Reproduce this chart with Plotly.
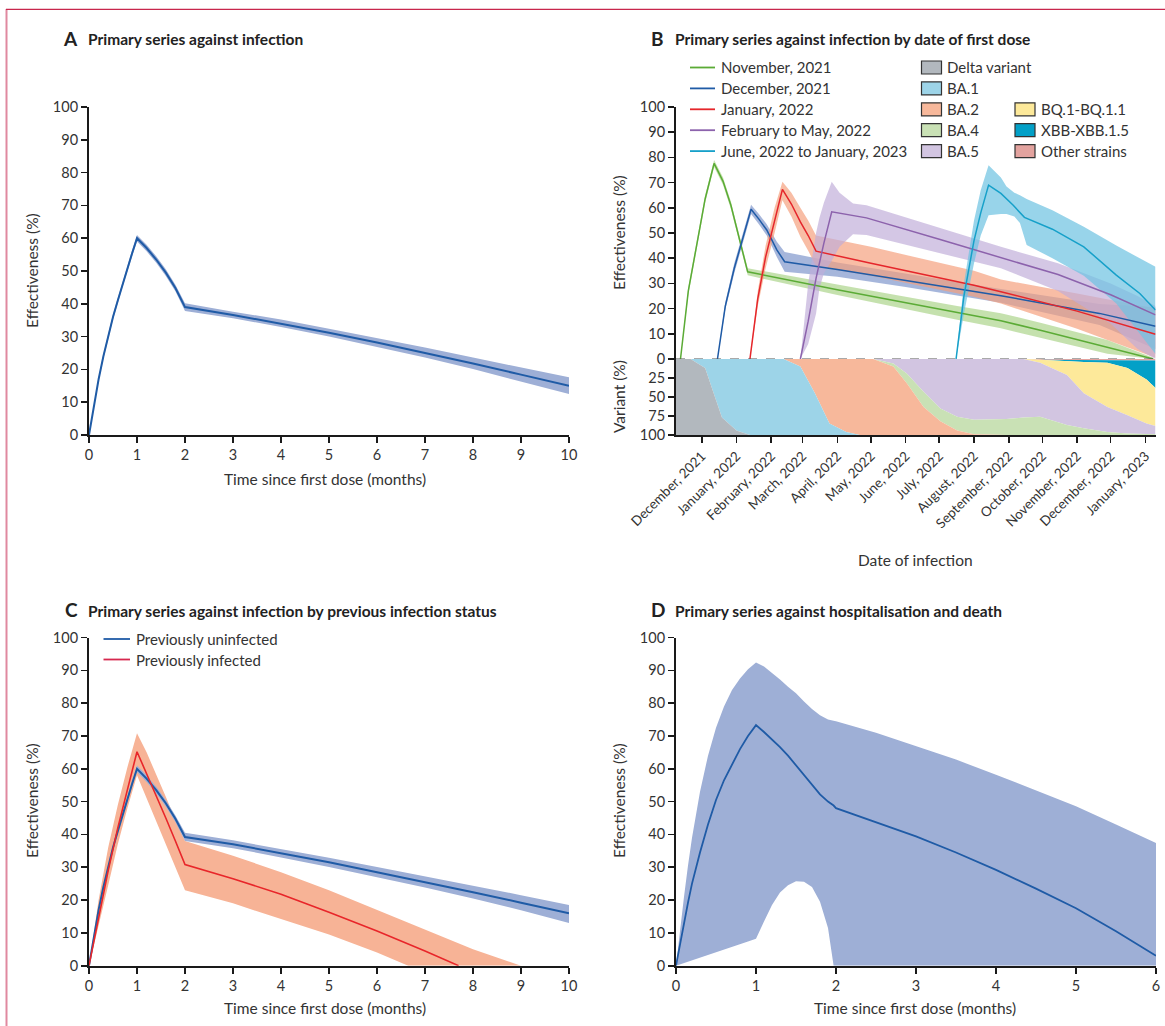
import plotly.graph_objects as go

W, H = 1165, 1026
FONT = "Lato"
TXT = "#333333"
AXC = "#1a1a1a"

# ---------------- Panel A: primary series against infection ----------------
a_t = [0, 0.1, 0.2, 0.3, 0.4, 0.5, 0.6, 0.7, 0.8, 0.9, 1.0, 1.2, 1.4, 1.6, 1.8, 2.0, 3, 4, 5, 6, 7, 8, 9, 10]
a_mid = [0, 9, 17, 24, 30, 36, 41, 46, 51, 55.5, 60, 57, 53.5, 49.5, 44.8, 39, 36.6, 34, 31.2, 28.2, 25.1, 21.8, 18.4, 15]
a_up = [0, 9.4, 17.6, 24.7, 30.8, 36.8, 41.8, 46.8, 51.9, 56.4, 61, 58, 54.5, 50.5, 45.8, 40.2, 37.6, 35.2, 32.4, 29.6, 26.7, 23.6, 20.6, 17.6]
a_lo = [0, 8.6, 16.4, 23.3, 29.2, 35.2, 40.2, 45.2, 50.1, 54.6, 59, 56, 52.5, 48.5, 43.8, 37.8, 35.6, 32.9, 30, 26.9, 23.6, 20.1, 16.4, 12.5]

# ---------------- Panel B: by date of first dose ----------------
b_green_d = ["2021-11-12", "2021-11-19", "2021-11-27", "2021-12-04", "2021-12-12", "2021-12-20", "2021-12-27",
             "2022-01-03", "2022-01-11", "2022-04-01", "2022-07-17", "2022-08-25", "2022-10-01", "2022-11-28", "2023-01-08"]
b_green_m = [0, 27, 46.5, 63.5, 77.6, 70.5, 61, 49, 34.6, 27.5, 18.3, 15.2, 11.2, 4.8, 0]
b_green_u = [0, 28.5, 48, 65, 79, 72, 62.5, 50.5, 36, 29.6, 21, 18.2, 14.2, 7.5, 0.5]
b_green_l = [0, 25.5, 45, 62, 76.2, 69, 59.5, 47.5, 33.2, 25.4, 15.6, 12.2, 8.2, 2.1, 0]

b_blue_d = ["2021-12-15", "2021-12-22", "2021-12-30", "2022-01-07", "2022-01-14", "2022-01-21", "2022-01-28",
            "2022-02-06", "2022-02-13", "2022-04-01", "2022-06-01", "2022-08-25", "2022-11-21", "2023-01-10"]
b_blue_m = [0, 21, 36, 48.5, 59.4, 55.5, 51.2, 43.3, 38.6, 35.5, 31.2, 25.1, 18.1, 13]
b_blue_u = [0, 22.5, 38, 50.5, 61.2, 57.5, 53.5, 46.5, 42.5, 38.3, 33.8, 27.8, 21.8, 20.5]
b_blue_l = [0, 19.5, 34, 46.5, 57.5, 53.5, 49, 40.5, 34.6, 32.6, 28.6, 22.3, 13.5, 4]

b_red_d = ["2022-01-13", "2022-01-20", "2022-01-27", "2022-02-04", "2022-02-11", "2022-02-19", "2022-02-27",
           "2022-03-06", "2022-03-13", "2022-05-01", "2022-08-01", "2022-08-25", "2022-11-01", "2023-01-10"]
b_red_m = [0, 24, 40.5, 55, 67.3, 61.5, 54.4, 49, 42.8, 38, 29.3, 26.7, 19, 9.8]
b_red_u = [0, 27, 45, 60, 70.3, 66, 60, 55, 49, 44.5, 35, 31.5, 26, 20]
b_red_l = [0, 21, 36, 50, 63, 56.5, 48.5, 43, 36.8, 33, 24.7, 22, 12, 0.5]

b_purple_d = ["2022-02-27", "2022-03-06", "2022-03-13", "2022-03-20", "2022-03-27", "2022-04-27",
              "2022-07-01", "2022-08-25", "2022-10-15", "2022-12-01", "2023-01-10"]
b_purple_m = [0, 15, 32, 46, 58.4, 56, 47.5, 40.3, 33.5, 25.5, 17.5]
b_purple_bd = ["2022-02-27", "2022-03-06", "2022-03-13", "2022-03-16", "2022-03-20", "2022-03-27", "2022-04-03",
               "2022-04-15", "2022-04-27", "2022-07-01", "2022-08-25", "2022-10-15", "2022-12-01", "2022-12-25", "2023-01-10"]
b_purple_u = [0, 30, 50, 56, 62, 70.3, 66, 61.7, 61, 52, 44.5, 38, 30, 25, 21]
b_purple_l = [0, 6, 18, 28, 34, 39, 44.5, 49.5, 49.2, 42, 36, 27, 14, 4, 0]

b_cyan_d = ["2022-07-16", "2022-07-23", "2022-08-01", "2022-08-07", "2022-08-14", "2022-08-25", "2022-09-05",
            "2022-09-15", "2022-10-10", "2022-11-07", "2022-12-06", "2022-12-27", "2023-01-10"]
b_cyan_m = [0, 25, 47, 58, 69, 65.7, 61, 56.2, 51.5, 44.5, 33.3, 26, 19.4]
b_cyan_bd = ["2022-07-16", "2022-07-23", "2022-08-01", "2022-08-07", "2022-08-14", "2022-08-25", "2022-08-30",
             "2022-09-06", "2022-09-11", "2022-09-17", "2022-10-10", "2022-11-07", "2022-12-06", "2022-12-27", "2023-01-10"]
b_cyan_u = [0, 30, 55, 67, 76.9, 72, 68.5, 66, 65, 63.5, 59, 52.5, 45, 40, 36.6]
b_cyan_l = [0, 18, 38, 49, 57, 57.5, 57.5, 56.5, 54, 45.2, 40, 33, 22, 10, 2]

b_series_names = ["November, 2021", "December, 2021", "January, 2022", "February to May, 2022", "June, 2022 to January, 2023"]
b_line_colors = ["#5bab36", "#1f5ba6", "#e5262b", "#8c62ac", "#16a0c9"]
b_band_colors = ["rgba(172,212,140,0.70)", "rgba(112,137,197,0.62)", "rgba(245,158,122,0.68)",
                 "rgba(192,172,216,0.68)", "rgba(112,196,226,0.72)"]

# variant proportions (%), date of infection
v_dates = ["2021-11-08", "2021-11-21", "2021-12-04", "2021-12-19", "2022-01-01", "2022-01-13", "2022-02-12",
           "2022-02-27", "2022-03-12", "2022-03-25", "2022-04-09", "2022-04-21", "2022-05-03", "2022-05-21",
           "2022-06-02", "2022-06-17", "2022-07-02", "2022-07-17", "2022-08-01", "2022-08-30", "2022-09-14",
           "2022-09-29", "2022-10-23", "2022-11-07", "2022-11-28", "2022-12-16", "2023-01-02", "2023-01-10"]
v_delta = [100, 100, 88, 23, 6, 0, 0, 0, 0, 0, 0, 0, 0, 0, 0, 0, 0, 0, 0, 0, 0, 0, 0, 0, 0, 0, 0, 0]
v_ba1 = [0, 0, 12, 77, 94, 100, 100, 90, 55, 15, 4, 0, 0, 0, 0, 0, 0, 0, 0, 0, 0, 0, 0, 0, 0, 0, 0, 0]
v_ba2 = [0, 0, 0, 0, 0, 0, 0, 10, 45, 85, 96, 100, 100, 90, 68, 37, 18, 6, 1, 0, 0, 0, 0, 0, 0, 0, 0, 0]
v_ba4 = [0, 0, 0, 0, 0, 0, 0, 0, 0, 0, 0, 0, 0, 4, 13, 20, 17, 18, 19, 21, 23, 24, 13, 9, 4, 2, 1, 1]
v_ba5 = [0, 0, 0, 0, 0, 0, 0, 0, 0, 0, 0, 0, 0, 6, 19, 43, 65, 76, 80, 79, 77, 71, 66, 46, 33, 24, 14, 11]
v_bq1 = [0, 0, 0, 0, 0, 0, 0, 0, 0, 0, 0, 0, 0, 0, 0, 0, 0, 0, 0, 0, 0, 4, 18, 41, 58, 62, 58, 50]
v_xbb = [0, 0, 0, 0, 0, 0, 0, 0, 0, 0, 0, 0, 0, 0, 0, 0, 0, 0, 0, 0, 0, 0, 1.5, 2.5, 3.5, 10, 25, 36]
v_other = [0, 0, 0, 0, 0, 0, 0, 0, 0, 0, 0, 0, 0, 0, 0, 0, 0, 0, 0, 0, 0, 1, 1.5, 1.5, 1.5, 2, 2, 2]

variant_names = ["Delta variant", "BA.1", "BA.2", "BA.4", "BA.5", "BQ.1-BQ.1.1", "XBB-XBB.1.5", "Other strains"]
variant_colors = ["#b2b8be", "#9dd4e8", "#f7b89b", "#c9e1b5", "#d2c5e1", "#fde99a", "#03a0c7", "#e3a39f"]

month_ticks = ["2021-12-01", "2022-01-01", "2022-02-01", "2022-03-01", "2022-04-01", "2022-05-01", "2022-06-01",
               "2022-07-01", "2022-08-01", "2022-09-01", "2022-10-01", "2022-11-01", "2022-12-01", "2023-01-01"]
month_labels = ["December, 2021", "January, 2022", "February, 2022", "March, 2022", "April, 2022", "May, 2022",
                "June, 2022", "July, 2022", "August, 2022", "September, 2022", "October, 2022", "November, 2022",
                "December, 2022", "January, 2023"]

# ---------------- Panel C: by previous infection status ----------------
c_t = [0, 0.1, 0.2, 0.3, 0.4, 0.5, 0.6, 0.7, 0.8, 0.9, 1.0, 1.2, 1.4, 1.6, 1.8, 2.0, 3, 4, 5, 6, 7, 8, 9, 10]
c_un_mid = [0, 9, 17, 24, 30, 36, 41, 46, 51, 55.5, 60, 57, 53.5, 49.5, 44.8, 39.2, 37, 34.3, 31.5, 28.5, 25.5, 22.4, 19.2, 16]
c_un_up = [0, 9.4, 17.6, 24.7, 30.8, 36.8, 41.8, 46.8, 51.9, 56.4, 61, 58, 54.5, 50.5, 45.8, 40.5, 38.2, 35.6, 32.9, 30.1, 27.3, 24.4, 21.5, 18.5]
c_un_lo = [0, 8.6, 16.4, 23.3, 29.2, 35.2, 40.2, 45.2, 50.1, 54.6, 59, 56, 52.5, 48.5, 43.8, 38, 35.8, 33, 30.1, 27, 23.8, 20.5, 16.9, 13]

c_in_t = [0, 0.2, 0.4, 0.6, 0.8, 1.0, 1.2, 1.4, 1.6, 1.8, 2.0, 3, 4, 5, 6, 7, 7.7]
c_in_mid = [0, 15, 29, 42, 54, 65.2, 58.5, 52, 45, 38, 30.8, 26.5, 21.8, 16.3, 10.6, 4.5, 0]
c_in_bt = [0, 0.2, 0.4, 0.6, 0.8, 1.0, 1.2, 1.4, 1.6, 1.8, 2.0, 3, 4, 5, 6, 6.65, 7, 8, 9]
c_in_up = [0, 20, 36, 49, 60.5, 70.8, 65, 58.5, 51.5, 44.5, 38, 33.5, 28.5, 23, 17, 13.3, 11, 5, 0]
c_in_lo = [0, 12, 24.5, 37, 48, 58, 51.5, 44, 37, 30, 23, 19, 14.2, 9.5, 4, 0, 0, 0, 0]

c_names = ["Previously uninfected", "Previously infected"]
c_colors = ["#1f5ba6", "#e8262a"]

# ---------------- Panel D: against hospitalisation and death ----------------
d_t = [0, 0.05, 0.1, 0.15, 0.2, 0.3, 0.4, 0.5, 0.6, 0.7, 0.8, 0.9, 1.0, 1.1, 1.2, 1.3, 1.4, 1.5, 1.6, 1.7, 1.8, 1.9,
       1.97, 2.0, 2.5, 3, 3.5, 4, 4.5, 5, 5.5, 6]
d_mid = [0, 6.8, 13, 19.2, 25, 34.5, 43, 50.5, 56.5, 61.5, 66, 70, 73.3, 71.2, 69, 66.6, 64, 61, 58, 55.2, 52.2, 50,
         48.8, 48, 43.8, 39.4, 34.5, 29.2, 23.5, 17.5, 10.5, 3]
d_up = [0, 11, 21, 30.5, 39, 53, 64, 72.5, 79, 84, 87.5, 90.3, 92.4, 91.2, 89.3, 87.2, 85, 83, 80.5, 78.2, 76.3, 75,
        74.6, 74.5, 71, 67, 62.8, 58.2, 53.5, 48.6, 43, 37.4]
d_lo = [0, 0.4, 0.8, 1.2, 1.6, 2.5, 3.3, 4.1, 4.9, 5.7, 6.6, 7.4, 8.2, 13.5, 18.5, 22.3, 24.5, 25.7, 25.6, 24, 19.5,
        11.5, 0, 0, 0, 0, 0, 0, 0, 0, 0, 0]

BAND_BLUE = "#9eafd6"
LINE_BLUE = "#1f5ba6"


def xd(p0, p1):
    return [p0 / W, p1 / W]


def yd(top, bottom):
    return [1 - bottom / H, 1 - top / H]


def band(x, up, lo, color, xa, ya):
    return go.Scatter(x=list(x) + list(x)[::-1], y=list(up) + list(lo)[::-1], fill="toself",
                      fillcolor=color, line=dict(width=0), mode="lines", hoverinfo="skip",
                      showlegend=False, xaxis=xa, yaxis=ya)


def line(x, y, color, xa, ya, name, width=1.6):
    return go.Scatter(x=x, y=y, mode="lines", line=dict(color=color, width=width), name=name,
                      showlegend=False, xaxis=xa, yaxis=ya)


fig = go.Figure()

# Panel A
fig.add_trace(band(a_t, a_up, a_lo, BAND_BLUE, "x", "y"))
fig.add_trace(line(a_t, a_mid, LINE_BLUE, "x", "y", "Primary series", 2))

# Panel B effectiveness
b_sets = [
    (b_green_d, b_green_m, b_green_d, b_green_u, b_green_l),
    (b_blue_d, b_blue_m, b_blue_d, b_blue_u, b_blue_l),
    (b_red_d, b_red_m, b_red_d, b_red_u, b_red_l),
    (b_purple_d, b_purple_m, b_purple_bd, b_purple_u, b_purple_l),
    (b_cyan_d, b_cyan_m, b_cyan_bd, b_cyan_u, b_cyan_l),
]
for i, (d, m, bd, u, l) in enumerate(b_sets):
    fig.add_trace(band(bd, u, l, b_band_colors[i], "x2", "y2"))
for i, (d, m, bd, u, l) in enumerate(b_sets):
    fig.add_trace(line(d, m, b_line_colors[i], "x2", "y2", b_series_names[i], 1.5))

# Panel B variants (stacked from top: last variant first)
variant_values = [v_delta, v_ba1, v_ba2, v_ba4, v_ba5, v_bq1, v_xbb, v_other]
for i in range(len(variant_names) - 1, -1, -1):
    fig.add_trace(go.Scatter(x=v_dates, y=variant_values[i], mode="lines", stackgroup="v",
                             line=dict(width=0), fillcolor=variant_colors[i], name=variant_names[i],
                             showlegend=False, xaxis="x3", yaxis="y3"))

# Panel C
fig.add_trace(band(c_in_bt, c_in_up, c_in_lo, "#f7b396", "x4", "y4"))
fig.add_trace(band(c_t, c_un_up, c_un_lo, BAND_BLUE, "x4", "y4"))
fig.add_trace(line(c_t, c_un_mid, c_colors[0], "x4", "y4", c_names[0], 2))
fig.add_trace(line(c_in_t, c_in_mid, c_colors[1], "x4", "y4", c_names[1], 1.6))

# Panel D
fig.add_trace(band(d_t, d_up, d_lo, BAND_BLUE, "x5", "y5"))
fig.add_trace(line(d_t, d_mid, LINE_BLUE, "x5", "y5", "Hospitalisation and death", 1.8))

tickfont = dict(family=FONT, size=14.5, color=TXT)
base_ax = dict(showline=True, linecolor=AXC, linewidth=2, ticks="outside", ticklen=6, tickwidth=1.6,
               tickcolor=AXC, tickfont=tickfont, showgrid=False, zeroline=False, automargin=False,
               fixedrange=True)

num_x10 = dict(base_ax, range=[0, 10], tickvals=list(range(0, 11)))
num_y100 = dict(base_ax, range=[0, 100], tickvals=list(range(0, 101, 10)))

fig.update_layout(
    width=W, height=H, margin=dict(l=0, r=0, t=0, b=0),
    paper_bgcolor="white", plot_bgcolor="rgba(0,0,0,0)", showlegend=False,
    font=dict(family=FONT, color=TXT),
    xaxis=dict(num_x10, domain=xd(89, 569), anchor="y"),
    yaxis=dict(num_y100, domain=yd(107, 435), anchor="x"),
    xaxis2=dict(base_ax, type="date", range=["2021-11-08", "2023-01-10"], domain=xd(676, 1155.5),
                anchor="y2", showline=False, ticks="", showticklabels=False, matches="x3"),
    yaxis2=dict(num_y100, domain=yd(107, 359), anchor="x2"),
    xaxis3=dict(base_ax, type="date", range=["2021-11-08", "2023-01-10"], domain=xd(676, 1155.5),
                anchor="y3", tickvals=month_ticks, ticktext=month_labels, tickangle=-45,
                tickfont=dict(family=FONT, size=13.5, color=TXT)),
    yaxis3=dict(base_ax, range=[100, 0], tickvals=[25, 50, 75, 100], domain=yd(359, 435), anchor="x3"),
    xaxis4=dict(num_x10, domain=xd(89, 569), anchor="y4"),
    yaxis4=dict(num_y100, domain=yd(637.5, 965.7), anchor="x4"),
    xaxis5=dict(base_ax, range=[0, 6], tickvals=list(range(0, 7)), domain=xd(676, 1156), anchor="y5"),
    yaxis5=dict(num_y100, domain=yd(637.5, 965.7), anchor="x5"),
)

shapes = []
# frame
shapes.append(dict(type="line", xref="paper", yref="paper", x0=6.5 / W, x1=6.5 / W, y0=0, y1=1 - 9 / H,
                   line=dict(color="#e089a0", width=2)))
shapes.append(dict(type="line", xref="paper", yref="paper", x0=6 / W, x1=1, y0=1 - 9.3 / H, y1=1 - 9.3 / H,
                   line=dict(color="#c8264c", width=1.2)))
# zero line in panel B
shapes.append(dict(type="line", xref="x2 domain", yref="y2", x0=0, x1=1, y0=0, y1=0,
                   line=dict(color="#555555", width=1.2, dash="dash")))

annotations = []


def text(x, y, s, size=14, bold=False, xanchor="left", yanchor="middle", angle=0, color=TXT):
    annotations.append(dict(x=x / W, y=1 - y / H, xref="paper", yref="paper", text=("<b>%s</b>" % s) if bold else s,
                            showarrow=False, xanchor=xanchor, yanchor=yanchor, textangle=angle,
                            font=dict(family=FONT, size=size, color=color)))


# panel titles
titles = [("A", "Primary series against infection", 61, 86, 38.5),
          ("B", "Primary series against infection by date of first dose", 649, 673, 38.5),
          ("C", "Primary series against infection by previous infection status", 63, 86, 609.5),
          ("D", "Primary series against hospitalisation and death", 649, 673, 609.5)]
for letter, t, lx, tx, ty in titles:
    text(lx, ty, letter, size=19, bold=True, color="#222222")
    text(tx, ty + 1, t, size=15.5, bold=True, color="#222222")

# axis titles
AT = 15.5
text(32, 271, "Effectiveness (%)", size=AT, angle=-90, xanchor="center")
text(325, 479, "Time since first dose (months)", size=AT, xanchor="center")
text(619, 233, "Effectiveness (%)", size=AT, angle=-90, xanchor="center")
text(619, 397, "Variant (%)", size=AT, angle=-90, xanchor="center")
text(915, 560, "Date of infection", size=AT, xanchor="center")
text(32, 801, "Effectiveness (%)", size=AT, angle=-90, xanchor="center")
text(325, 1008, "Time since first dose (months)", size=AT, xanchor="center")
text(619, 801, "Effectiveness (%)", size=AT, angle=-90, xanchor="center")
text(915, 1008, "Time since first dose (months)", size=AT, xanchor="center")

# legend panel B: lines
row0, rowgap = 67.5, 20.9
for i, nm in enumerate(b_series_names):
    yy = row0 + i * rowgap
    shapes.append(dict(type="line", xref="paper", yref="paper", x0=690 / W, x1=715 / W,
                       y0=1 - yy / H, y1=1 - yy / H, line=dict(color=b_line_colors[i], width=1.8)))
    text(719, yy, nm, size=15)

# legend panel B: variants (two columns)
legend_cols = [(0, 921.5, 0), (1, 921.5, 1), (2, 921.5, 2), (3, 921.5, 3), (4, 921.5, 4),
               (5, 1015, 2), (6, 1015, 3), (7, 1015, 4)]
for vi, bx, r in legend_cols:
    yy = row0 + r * rowgap
    shapes.append(dict(type="rect", xref="paper", yref="paper", x0=bx / W, x1=(bx + 20) / W,
                       y0=1 - (yy + 6.5) / H, y1=1 - (yy - 6.5) / H,
                       fillcolor=variant_colors[vi], line=dict(color="#333333", width=1.2)))
    text(bx + 23.5, yy, variant_names[vi], size=15)

# legend panel C
for i, nm in enumerate(c_names):
    yy = 639 + i * 20.5
    shapes.append(dict(type="line", xref="paper", yref="paper", x0=103.5 / W, x1=130 / W,
                       y0=1 - yy / H, y1=1 - yy / H,
                       line=dict(color=["#1f5ba6", "#d6284f"][i], width=1.8)))
    text(133.5, yy, nm, size=15)

fig.update_layout(shapes=shapes, annotations=annotations)
fig.write_html("out.html", config={"displayModeBar": False, "staticPlot": True},
               post_script="document.body.style.margin='0';document.body.style.overflow='hidden';")
